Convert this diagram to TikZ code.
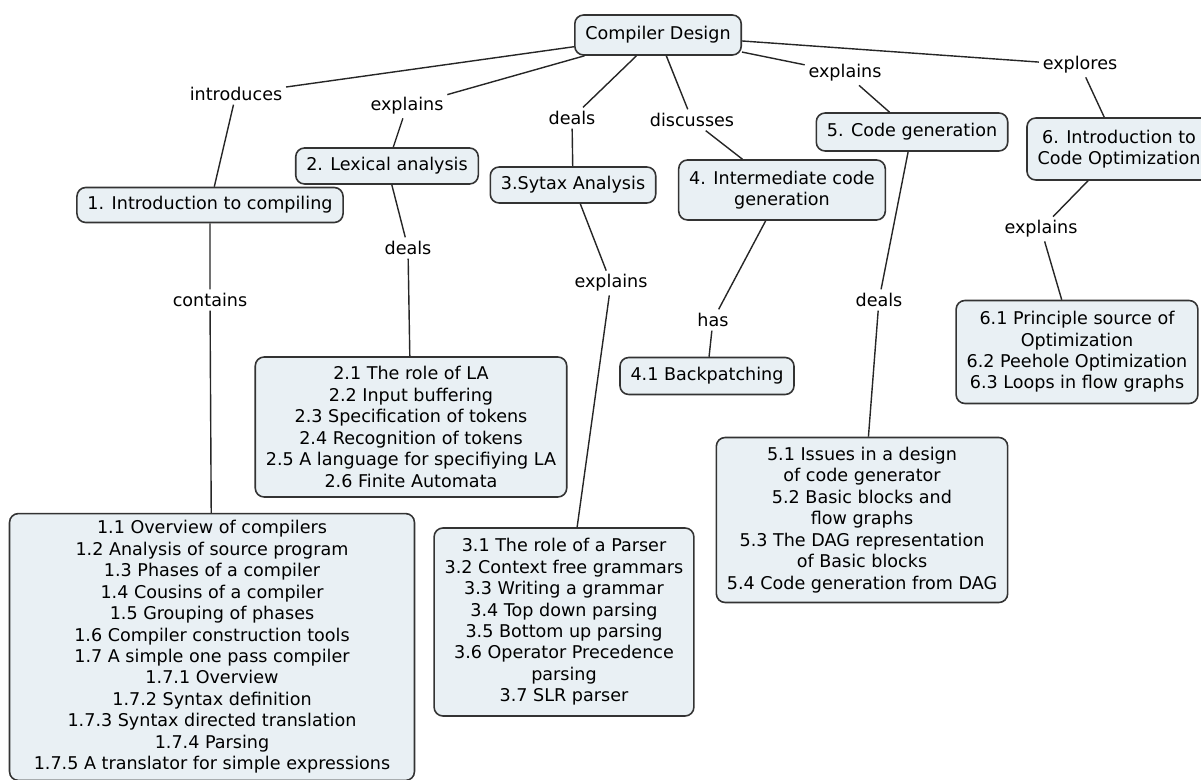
\documentclass[tikz,border=0pt]{standalone}
\usepackage{fontspec}
\setmainfont{DejaVu Sans}
\usepackage{tikz}
\usetikzlibrary{positioning}

\definecolor{boxfill}{HTML}{E9F0F4}
\definecolor{boxline}{HTML}{333333}

\begin{document}
\begin{tikzpicture}[
  x=0.02cm, y=-0.02cm,
  box/.style={draw=boxline, fill=boxfill, rounded corners=5pt, line width=0.9pt, align=center, inner xsep=6pt, inner ysep=4pt, font=\fontsize{10}{12.2}\selectfont},
  lbl/.style={inner sep=2pt, font=\fontsize{10}{12.2}\selectfont},
  link/.style={draw=black!85, line width=0.8pt}
]
\useasboundingbox (0,0) rectangle (1201,780);

% Root
\node[box, minimum height=0.8cm] (root) at (658,35) {Compiler Design};

% Chapters
\node[box, minimum height=0.7cm] (ch1) at (210,205) {1. Introduction to compiling};
\node[box, minimum height=0.72cm] (ch2) at (387,166) {2. Lexical analysis};
\node[box, minimum height=0.72cm] (ch3) at (573,185) {3.Sytax Analysis};
\node[box, minimum height=1.2cm] (ch4) at (782,190) {4. Intermediate code\\generation};
\node[box, minimum height=0.76cm] (ch5) at (912,132) {5. Code generation};
\node[box, minimum height=1.24cm] (ch6) at (1119,149) {6. Introduction to\\Code Optimization};

% Topic lists
\node[box, minimum width=8.1cm, minimum height=5.24cm] (top1) at (212,647) {1.1 Overview of compilers\\1.2 Analysis of source program\\1.3 Phases of a compiler\\1.4 Cousins of a compiler\\1.5 Grouping of phases\\1.6 Compiler construction tools\\1.7 A simple one pass compiler\\1.7.1 Overview\\1.7.2 Syntax definition\\1.7.3 Syntax directed translation\\1.7.4 Parsing\\1.7.5 A translator for simple expressions};
\node[box, minimum height=2.8cm] (top2) at (411,427) {2.1 The role of LA\\2.2 Input buffering\\2.3 Specification of tokens\\2.4 Recognition of tokens\\2.5 A language for specifiying LA\\2.6 Finite Automata};
\node[box, minimum height=3.76cm] (top3) at (564,622) {3.1 The role of a Parser\\3.2 Context free grammars\\3.3 Writing a grammar\\3.4 Top down parsing\\3.5 Bottom up parsing\\3.6 Operator Precedence\\parsing\\3.7 SLR parser};
\node[box, minimum height=0.74cm] (top4) at (707,376) {4.1 Backpatching};
\node[box, minimum height=3.3cm] (top5) at (862,520) {5.1 Issues in a design\\of code generator\\5.2 Basic blocks and\\flow graphs\\5.3 The DAG representation\\of Basic blocks\\5.4 Code generation from DAG};
\node[box, minimum height=2.06cm] (top6) at (1077,352) {6.1 Principle source of\\Optimization\\6.2 Peehole Optimization\\6.3 Loops in flow graphs};

% Link labels
\node[lbl] (introduces) at (236,94)  {introduces};
\node[lbl] (explainsA)  at (407,106) {explains};
\node[lbl] (dealsA)     at (572,118) {deals};
\node[lbl] (discusses)  at (692,120) {discusses};
\node[lbl] (explainsB)  at (845,73)  {explains};
\node[lbl] (explores)   at (1080,65) {explores};
\node[lbl] (contains)   at (210,300) {contains};
\node[lbl] (dealsB)     at (408,248) {deals};
\node[lbl] (explainsC)  at (611,283) {explains};
\node[lbl] (has)        at (713,320) {has};
\node[lbl] (dealsC)     at (879,300) {deals};
\node[lbl] (explainsD)  at (1041,229) {explains};

% Links
\draw[link] (root) -- (introduces) -- (ch1);
\draw[link] (root) -- (explainsA) -- (ch2);
\draw[link] (root) -- (dealsA) -- (ch3);
\draw[link] (root) -- (discusses) -- (ch4);
\draw[link] (root) -- (explainsB) -- (ch5);
\draw[link] (root) -- (explores) -- (ch6);
\draw[link] (ch1) -- (contains) -- (top1);
\draw[link] (ch2) -- (dealsB) -- (top2);
\draw[link] (ch3) -- (explainsC) -- (top3);
\draw[link] (ch4) -- (has) -- (top4);
\draw[link] (ch5) -- (dealsC) -- (top5);
\draw[link] (ch6) -- (explainsD) -- (top6);

\end{tikzpicture}
\end{document}
